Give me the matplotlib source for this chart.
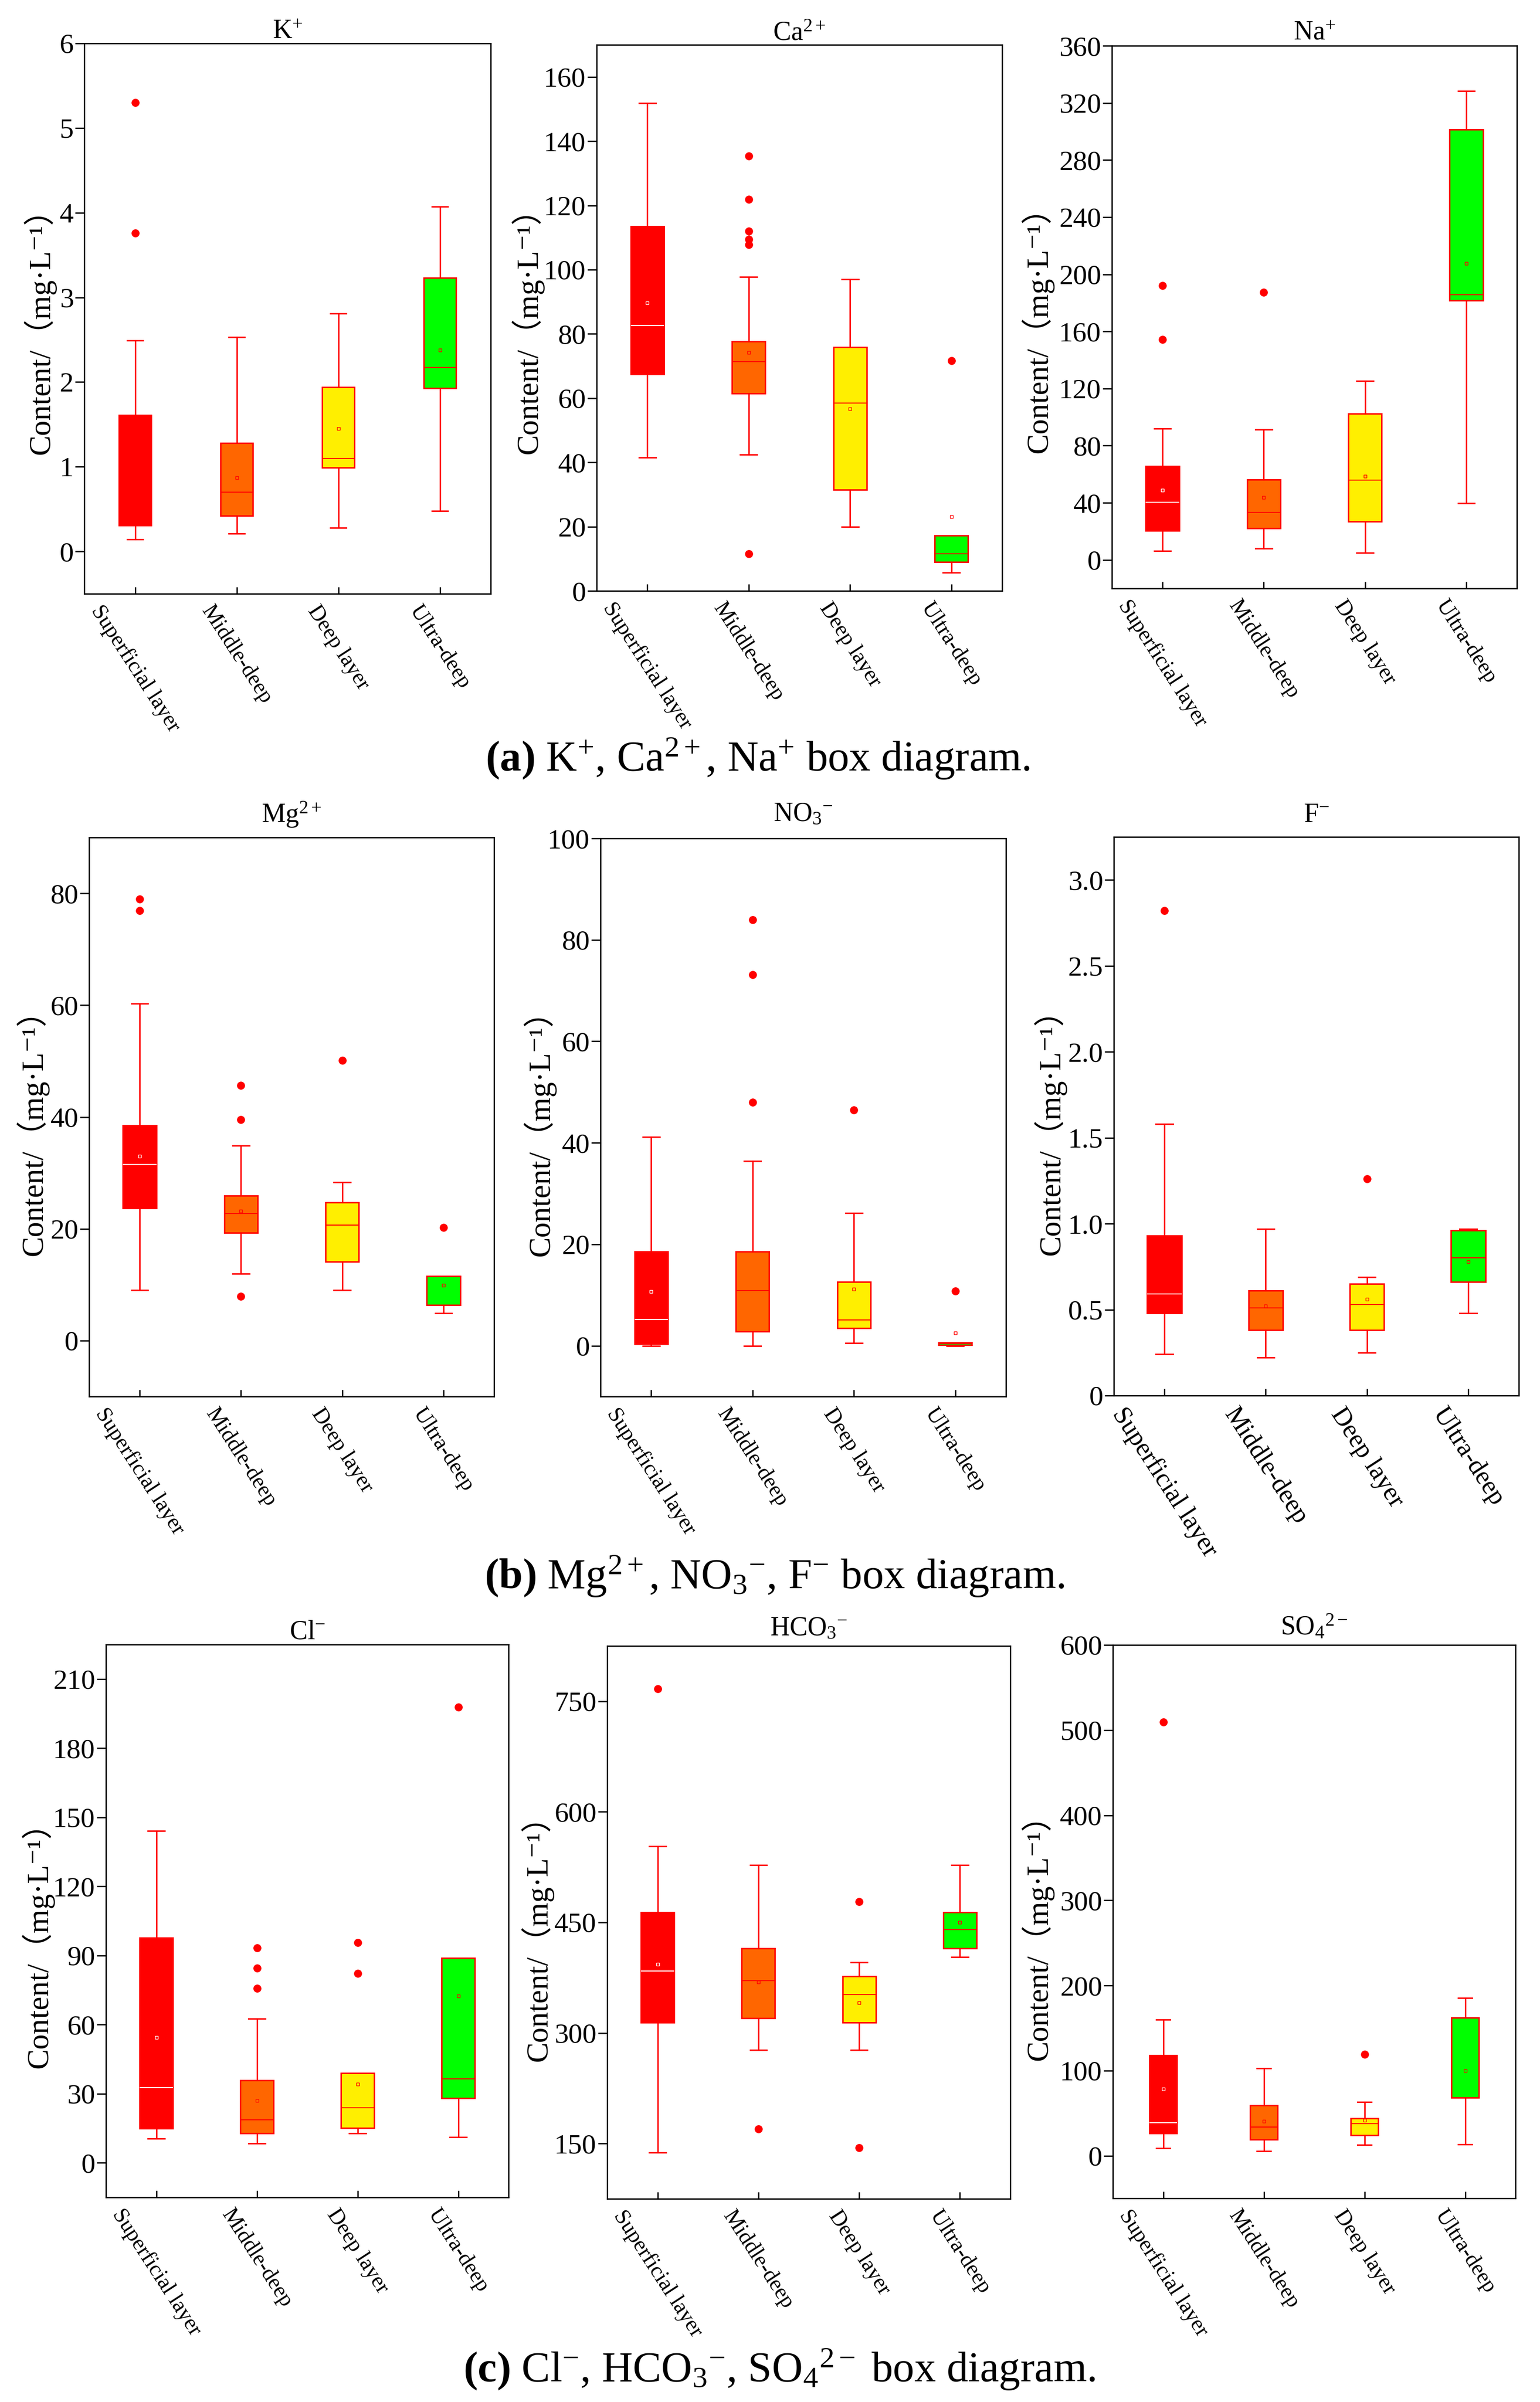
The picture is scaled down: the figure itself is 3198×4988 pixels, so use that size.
import numpy as np
import matplotlib
matplotlib.use("Agg")
import matplotlib.pyplot as plt

plt.rcParams["font.family"] = ["Liberation Serif", "Noto Sans CJK SC", "DejaVu Serif"]
plt.rcParams["mathtext.fontset"] = "custom"
plt.rcParams["mathtext.rm"] = "Liberation Serif"
plt.rcParams["mathtext.it"] = "Liberation Serif:italic"
plt.rcParams["mathtext.bf"] = "Liberation Serif:bold"

nan = np.nan

# camadas e cores das caixas
layers = ["Superficial layer", "Middle-deep", "Deep layer", "Ultra-deep"]
box_colors = ["#FF0000", "#FF6600", "#FFEF00", "#00FF00"]

# K+
k_low = [0.14, 0.21, 0.28, 0.48]
k_q1 = [0.31, 0.42, 0.99, 1.93]
k_med = [0.31, 0.70, 1.10, 2.17]
k_q3 = [1.61, 1.28, 1.94, 3.23]
k_high = [2.49, 2.53, 2.81, 4.07]
k_mean = [nan, 0.87, 1.45, 2.38]
k_out = [[5.30, 3.76], [], [], []]

# Ca2+
ca_low = [41.6, 42.5, 19.9, 5.7]
ca_q1 = [67.5, 61.5, 31.5, 9.0]
ca_med = [82.6, 71.3, 58.4, 11.6]
ca_q3 = [113.5, 77.6, 75.9, 17.3]
ca_high = [151.9, 97.7, 97.0, 17.3]
ca_mean = [89.6, 74.2, 56.7, 23.1]
ca_out = [[], [135.4, 121.9, 112.0, 109.5, 107.8, 11.5], [], [71.7]]

# Na+
na_low = [6.2, 7.9, 4.8, 39.8]
na_q1 = [20.6, 22.0, 26.8, 181.7]
na_med = [40.5, 33.3, 56.0, 185.8]
na_q3 = [65.6, 56.3, 102.4, 301.3]
na_high = [92.1, 91.4, 125.4, 328.4]
na_mean = [48.8, 43.6, 58.7, 207.5]
na_out = [[192.0, 154.2], [187.2], [], []]

# Mg2+
mg_low = [9.0, 12.0, 9.0, 4.9]
mg_q1 = [23.7, 19.3, 14.1, 6.4]
mg_med = [31.5, 22.7, 20.7, 6.4]
mg_q3 = [38.5, 25.9, 24.7, 11.5]
mg_high = [60.3, 34.9, 28.3, 11.5]
mg_mean = [33.0, 23.2, nan, 9.9]
mg_out = [[79.0, 76.9], [45.6, 39.5, 7.9], [50.1], [20.2]]

# NO3-
no3_low = [0.0, 0.0, 0.5, 0.0]
no3_q1 = [0.3, 2.8, 3.5, 0.2]
no3_med = [5.2, 10.9, 5.1, 0.4]
no3_q3 = [18.6, 18.6, 12.6, 0.6]
no3_high = [41.2, 36.4, 26.2, 0.6]
no3_mean = [10.7, nan, 11.2, 2.5]
no3_out = [[], [84.0, 73.1, 48.0], [46.5], [10.8]]

# F-
f_low = [0.24, 0.22, 0.25, 0.48]
f_q1 = [0.48, 0.38, 0.38, 0.66]
f_med = [0.59, 0.51, 0.53, 0.80]
f_q3 = [0.93, 0.61, 0.65, 0.96]
f_high = [1.58, 0.97, 0.69, 0.97]
f_mean = [nan, 0.52, 0.56, 0.78]
f_out = [[2.82], [], [1.26], []]

# Cl-
cl_low = [10.6, 8.5, 12.8, 11.2]
cl_q1 = [14.8, 12.8, 15.1, 28.1]
cl_med = [32.6, 18.7, 23.8, 36.4]
cl_q3 = [97.6, 35.8, 38.9, 88.8]
cl_high = [144.1, 62.5, 38.9, 88.8]
cl_mean = [54.4, 27.0, 34.2, 72.4]
cl_out = [[], [93.3, 84.6, 75.8], [95.6, 82.3], [197.9]]

# HCO3-
hco3_low = [138, 277, 277, 403]
hco3_q1 = [314, 320, 314, 415]
hco3_med = [384, 371, 352, 440]
hco3_q3 = [464, 415, 377, 464]
hco3_high = [553, 528, 396, 528]
hco3_mean = [393, 369, 341, 450]
hco3_out = [[767], [170], [478, 144], []]

# SO4 2-
so4_low = [9.1, 5.5, 12.8, 13.4]
so4_q1 = [26.1, 18.8, 24.3, 68.1]
so4_med = [38.9, 34.0, 37.7, 68.1]
so4_q3 = [117.9, 59.0, 43.8, 162.3]
so4_high = [159.9, 102.7, 63.2, 185.4]
so4_mean = [78.4, 40.7, 41.9, 99.7]
so4_out = [[509.4], [], [119.1], []]

W, H = 3198, 4988
fig = plt.figure(figsize=(W / 100, H / 100), dpi=100)


def montar_stats(low, q1, med, q3, high, mean, out):
    stats = []
    for i in range(4):
        stats.append({"whislo": low[i], "q1": q1[i], "med": med[i], "q3": q3[i],
                      "whishi": high[i], "mean": mean[i], "fliers": out[i]})
    return stats


def eixo(px_left, px_right, px_top, px_bottom):
    return fig.add_axes([px_left / W, 1 - px_bottom / H,
                         (px_right - px_left) / W, (px_bottom - px_top) / H])


# (título, dados, caixa em px, ylim, yticks, rótulos, largura, pad título, ylabel x, ylabel y, fonte x)
paineis = [
    (r"K$^{+}$", (k_low, k_q1, k_med, k_q3, k_high, k_mean, k_out), (175, 1019, 90, 1233),
     (-0.5, 6), np.arange(0, 7, 1), None, 0.32, 7, -0.070, 0.49, 33),
    (r"Ca$^{2+}$", (ca_low, ca_q1, ca_med, ca_q3, ca_high, ca_mean, ca_out), (1239, 2081, 93, 1227),
     (0, 170), np.arange(0, 161, 20), None, 0.33, 7, -0.13, 0.49, 33),
    (r"Na$^{+}$", (na_low, na_q1, na_med, na_q3, na_high, na_mean, na_out), (2309, 3150, 95, 1222),
     (-20, 360), np.arange(0, 361, 40), None, 0.33, 9, -0.144, 0.49, 33),
    (r"Mg$^{2+}$", (mg_low, mg_q1, mg_med, mg_q3, mg_high, mg_mean, mg_out), (185, 1026, 1739, 2900),
     (-10, 90), np.arange(0, 81, 20), None, 0.33, 22, -0.099, 0.485, 33),
    (r"NO$_{3}$$^{-}$", (no3_low, no3_q1, no3_med, no3_q3, no3_high, no3_mean, no3_out), (1247, 2089, 1741, 2900),
     (-10, 100), np.arange(0, 101, 20), None, 0.33, 26, -0.11, 0.485, 33),
    (r"F$^{-}$", (f_low, f_q1, f_med, f_q3, f_high, f_mean, f_out), (2313, 3154, 1738, 2898),
     (0, 3.25), np.arange(0, 3.01, 0.5), ["0", "0.5", "1.0", "1.5", "2.0", "2.5", "3.0"], 0.34, 22, -0.117, 0.485, 39),
    (r"Cl$^{-}$", (cl_low, cl_q1, cl_med, cl_q3, cl_high, cl_mean, cl_out), (220, 1056, 3415, 4563),
     (-15, 225), np.arange(0, 211, 30), None, 0.33, 8, -0.129, 0.47, 33),
    (r"HCO$_{3}$$^{-}$", (hco3_low, hco3_q1, hco3_med, hco3_q3, hco3_high, hco3_mean, hco3_out), (1261, 2098, 3418, 4566),
     (75, 825), np.arange(150, 751, 150), None, 0.33, 16, -0.133, 0.485, 33),
    (r"SO$_{4}$$^{2-}$", (so4_low, so4_q1, so4_med, so4_q3, so4_high, so4_mean, so4_out), (2311, 3147, 3416, 4565),
     (-50, 600), np.arange(0, 601, 100), None, 0.27, 15, -0.147, 0.485, 33),
]

for titulo, dados, caixa, ylim, yticks, ylabels, larg, tpad, lx, ly, fx in paineis:
    ax = eixo(*caixa)
    stats = montar_stats(*dados)
    res = ax.bxp(stats, positions=[1, 2, 3, 4], widths=larg, capwidths=larg * 0.5,
                 patch_artist=True, showmeans=True,
                 boxprops=dict(edgecolor="red", linewidth=2.2),
                 whiskerprops=dict(color="red", linewidth=2.2),
                 capprops=dict(color="red", linewidth=2.2),
                 medianprops=dict(color="red", linewidth=1.5),
                 flierprops=dict(marker="o", markerfacecolor="red", markeredgecolor="red", markersize=11),
                 meanprops=dict(marker="s", markerfacecolor="none", markeredgecolor="red",
                                markersize=5, markeredgewidth=1))
    for patch, cor in zip(res["boxes"], box_colors):
        patch.set_facecolor(cor)
    res["medians"][0].set_color("white")
    res["means"][0].set_markeredgecolor("white")
    # mediana coincidente com o quartil inferior fica escondida pela borda
    for linha, s in zip(res["medians"], stats):
        if s["med"] == s["q1"]:
            linha.set_zorder(1.5)

    ax.set_xlim(0.5, 4.5)
    ax.set_ylim(*ylim)
    ax.set_yticks(yticks)
    if ylabels is not None:
        ax.set_yticklabels(ylabels)
    ax.set_xticks([1, 2, 3, 4])
    ax.set_xticklabels(layers)
    ax.tick_params(axis="y", direction="out", length=14, width=2, labelsize=42, pad=2)
    ax.tick_params(axis="x", direction="in", length=10, width=2, labelsize=fx, pad=12, labelrotation=-57)
    for sp in ax.spines.values():
        sp.set_linewidth(2)
    ax.set_ylabel("Content/（mg·L⁻¹）", fontsize=46)
    ax.yaxis.set_label_coords(lx, ly)
    ax.annotate(titulo, xy=(0.5, 1), xycoords="axes fraction", xytext=(0, tpad),
                textcoords="offset points", ha="center", va="baseline", fontsize=40)

# legendas das figuras
fig.text(0.492, 1 - 1600 / H, r"$\mathbf{(a)}$ K$^{+}$, Ca$^{2+}$, Na$^{+}$ box diagram.",
         ha="center", va="baseline", fontsize=64)
fig.text(0.503, 1 - 3298 / H, r"$\mathbf{(b)}$ Mg$^{2+}$, NO$_{3}$$^{-}$, F$^{-}$ box diagram.",
         ha="center", va="baseline", fontsize=64)
fig.text(0.506, 1 - 4945 / H, r"$\mathbf{(c)}$ Cl$^{-}$, HCO$_{3}$$^{-}$, SO$_{4}$$^{2-}$ box diagram.",
         ha="center", va="baseline", fontsize=64)

fig.savefig("out.png", dpi=100, facecolor="white")
